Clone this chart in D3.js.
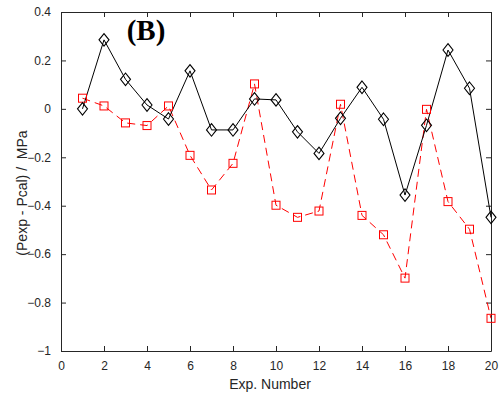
<!DOCTYPE html>
<html>
<head>
<meta charset="utf-8">
<script src="https://d3js.org/d3.v7.min.js"></script>
<style>
  body { margin: 0; background: #fff; }
</style>
</head>
<body>
<div id="chart"></div>
<script>
// --------- DATA ---------
const expNumber = d3.range(1, 21);
const calcA = [0.0, 0.285, 0.122, 0.016, -0.042, 0.157, -0.087, -0.087, 0.041, 0.037,
               -0.095, -0.184, -0.039, 0.089, -0.043, -0.356, -0.068, 0.243, 0.085, -0.448];
const calcB = [0.044, 0.012, -0.058, -0.069, 0.012, -0.192, -0.335, -0.225, 0.103, -0.398,
               -0.448, -0.422, 0.019, -0.440, -0.520, -0.699, -0.002, -0.383, -0.497, -0.865];
const xTicks = [0, 2, 4, 6, 8, 10, 12, 14, 16, 18, 20];
const yTicks = [-1, -0.8, -0.6, -0.4, -0.2, 0, 0.2, 0.4];

// --------- GRAPHING ---------
let margin = {top: 12, right: 8, bottom: 47, left: 61},
    width = 499 - margin.left - margin.right,
    height = 398 - margin.top - margin.bottom;

const sans = "'Liberation Sans', Arial, sans-serif";
const axisColor = "#262626";

let svg = d3.select("#chart")
    .append("svg")
    .attr("width", 499)
    .attr("height", 398);

let graph = svg.append("g")
    .attr("transform", "translate(" + margin.left + "," + margin.top + ")");

let xScale = d3.scaleLinear().domain([0, 20]).range([0, width]);
let yScale = d3.scaleLinear().domain([-1, 0.4]).range([height, 0]);

// axes, ticks inside (box on)
let xAxis = d3.axisBottom(xScale).tickValues(xTicks).tickSizeInner(-5).tickSizeOuter(0).tickPadding(10);
let yAxis = d3.axisLeft(yScale).tickValues(yTicks).tickSizeInner(-5).tickSizeOuter(0).tickPadding(10)
    .tickFormat(d => d === 0 ? "0" : d3.format("")(+d.toFixed(1)));

let gx = graph.append("g").attr("transform", "translate(0," + height + ")").call(xAxis);
let gy = graph.append("g").call(yAxis);
let gxTop = graph.append("g").call(d3.axisTop(xScale).tickValues(xTicks).tickSizeInner(-5).tickSizeOuter(0).tickFormat(""));
let gyRight = graph.append("g").attr("transform", "translate(" + width + ",0)")
    .call(d3.axisRight(yScale).tickValues(yTicks).tickSizeInner(-5).tickSizeOuter(0).tickFormat(""));

[gx, gy, gxTop, gyRight].forEach(g => {
    g.selectAll("path").attr("stroke", axisColor).attr("stroke-width", 1);
    g.selectAll("line").attr("stroke", axisColor);
    g.selectAll("text").attr("font-size", 12).attr("fill", axisColor)
        .attr("font-family", sans);
});

// Chart lines
let line = d3.line()
    .x((d, i) => xScale(expNumber[i]))
    .y(d => yScale(d));

graph.append("path")
    .attr("fill", "none")
    .attr("stroke", "red")
    .attr("stroke-width", 1)
    .attr("stroke-dasharray", "8,5")
    .attr("d", line(calcB));

graph.append("path")
    .attr("fill", "none")
    .attr("stroke", "black")
    .attr("stroke-width", 1)
    .attr("d", line(calcA));

// markers
graph.selectAll(".sq")
    .data(calcB)
    .enter().append("rect")
    .attr("class", "sq")
    .attr("x", (d, i) => xScale(expNumber[i]) - 4)
    .attr("y", d => yScale(d) - 4)
    .attr("width", 8)
    .attr("height", 8)
    .attr("fill", "none")
    .attr("stroke", "red")
    .attr("stroke-width", 1);

// diamond: a bit taller than wide, like MATLAB's 'd' marker
const dw = 5, dh = 6.3;
graph.selectAll(".dm")
    .data(calcA)
    .enter().append("path")
    .attr("class", "dm")
    .attr("transform", (d, i) => "translate(" + xScale(expNumber[i]) + "," + yScale(d) + ")")
    .attr("d", "M0," + (-dh) + "L" + dw + ",0L0," + dh + "L" + (-dw) + ",0Z")
    .attr("fill", "none")
    .attr("stroke", "black")
    .attr("stroke-width", 1.1);

// Title and labels
svg.append("text")
    .attr("x", 146)
    .attr("y", 40)
    .attr("text-anchor", "middle")
    .attr("font-family", "'Liberation Serif', 'Times New Roman', serif")
    .attr("font-weight", "bold")
    .attr("font-size", 29)
    .attr("fill", "#000")
    .text("(B)");

svg.append("text")
    .attr("x", 270)
    .attr("y", 389)
    .attr("text-anchor", "middle")
    .attr("font-family", sans)
    .attr("font-size", 14)
    .attr("fill", axisColor)
    .text("Exp. Number");

svg.append("text")
    .attr("transform", "translate(27,193) rotate(-90)")
    .attr("text-anchor", "middle")
    .attr("font-family", sans)
    .attr("font-size", 14)
    .attr("fill", axisColor)
    .style("white-space", "pre")
    .text("(Pexp - Pcal) /  MPa");
</script>
</body>
</html>
